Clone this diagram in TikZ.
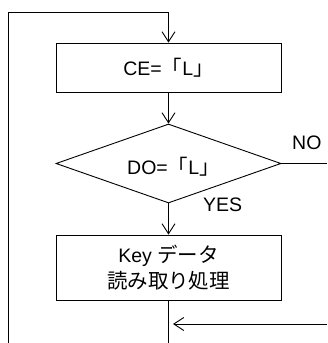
\documentclass[tikz,border=0pt]{standalone}
\usepackage{fontspec}
\setmainfont{Liberation Sans}
\newfontfamily\jp{Noto Sans CJK JP}[Scale=1.05]
\newcommand{\lbr}{{\jp 「}}
\newcommand{\rbr}{{\jp 」}}
\usetikzlibrary{shapes.geometric,arrows.meta}
\tikzset{
  x=1pt,y=1pt,
  line/.style={line width=0.9pt,black},
  arr/.style={line,-{Straight Barb[length=10pt,width=13pt,line width=0.9pt]}},
  txt/.style={font=\fontsize{19.5}{26}\selectfont},
  box/.style={draw,line width=0.9pt,minimum width=225pt,inner sep=0pt,align=center,txt},
  dia/.style={draw,diamond,line width=0.9pt,minimum width=225pt,minimum height=79pt,inner sep=0pt},
  lab/.style={inner sep=0pt,txt}
}
\begin{document}
\begin{tikzpicture}
\useasboundingbox (0,0) rectangle (327,-343);
\node[box,minimum height=49pt] (b1) at (168.5,-67.5) {CE=\lbr L\rbr};
\node[dia] (d1) at (168.5,-163.5) {};
\node[lab,anchor=base west] (t1) at (127,-174) {DO=\lbr L\rbr};
\node[box,minimum height=65pt] (b2) at (168.5,-267.5) {Key {\jp データ}\\{\jp 読み取り処理}};
\node[lab,anchor=west] (yes) at (203,-205) {YES};
\node[lab,anchor=west] (no) at (292,-143) {NO};
\coordinate (tl) at (8,-12);
\coordinate (tm) at (b1.north |- tl);
\coordinate (bl) at (8,-343);
\coordinate (bm) at (b2.south |- bl);
\coordinate (ne) at (327,-163.5);
\coordinate (re) at (327,-324);
\coordinate (rj) at (173,-324);
\draw[line] (bl) -- (tl) -- (tm);
\draw[arr] (tm) -- (b1.north);
\draw[arr] (b1.south) -- (d1.north);
\draw[arr] (d1.south) -- (b2.north);
\draw[line] (d1.east) -- (ne);
\draw[line] (b2.south) -- (bm);
\draw[arr] (re) -- (rj);
\end{tikzpicture}
\end{document}
